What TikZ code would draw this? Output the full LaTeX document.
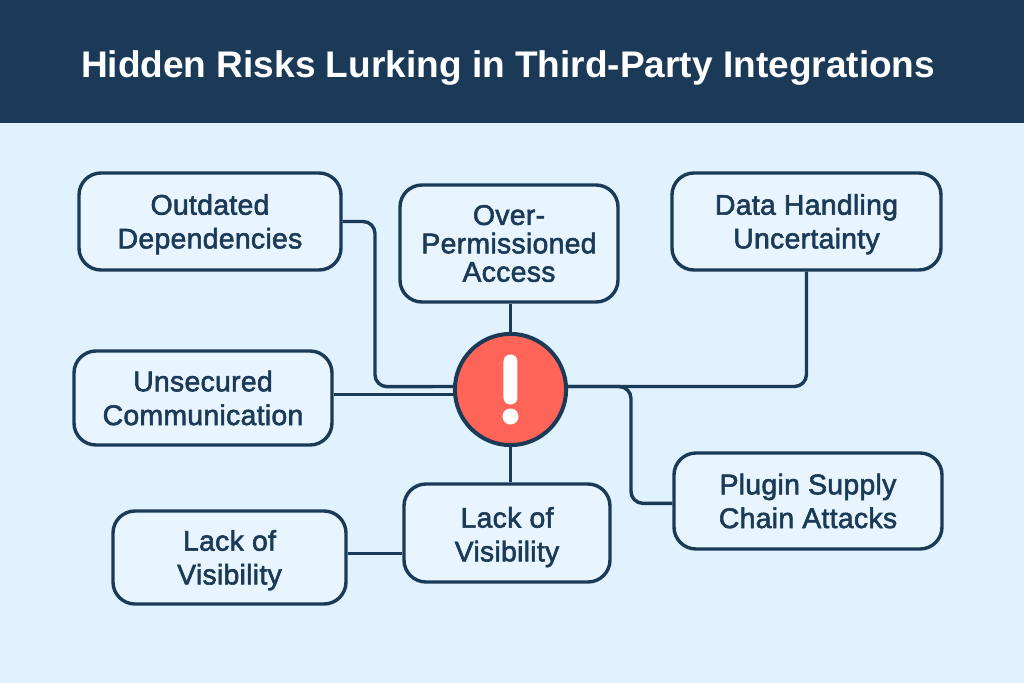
\documentclass[tikz,border=0pt]{standalone}
\usepackage{fontspec}
\usepackage{xcolor}
\usepackage{tikz}
\usetikzlibrary{shapes,arrows}
\setmainfont{Liberation Sans}
\newfontfamily\labelfont[FakeBold=2,LetterSpace=1]{Liberation Sans}
\newcommand{\droptext}{\rule{0pt}{18.5pt}}
\definecolor{navy}{HTML}{1B3A57}
\definecolor{paleblue}{HTML}{DFF2FE}
\definecolor{boxblue}{HTML}{E8F5FF}
\definecolor{alertred}{HTML}{FF6459}

\begin{document}
\begin{tikzpicture}[auto,
      block/.style={rectangle, draw=navy, line width=0.085cm, fill=boxblue, text=navy, align=center, rounded corners=0.55cm, font=\labelfont\fontsize{20.2}{24}\selectfont},
      line/.style={draw=navy, line width=0.085cm, rounded corners=0.3cm},
      hubnode/.style={circle, draw=navy, line width=0.1cm, fill=alertred, minimum size=2.78cm, inner sep=0pt},
      alertmark/.style={fill=white, draw=none, inner sep=0pt}]

      % Canvas
      \useasboundingbox (-12.7625,-7.3375) rectangle (12.8375,9.7375);
      \fill [paleblue] (-12.7625,-7.3375) rectangle (12.8375,9.7375);
      \fill [navy] (-12.7625,6.6625) rectangle (12.8375,9.7375);
      \node [text=white, font=\bfseries\fontsize{26.35}{30}\selectfont] (title) at (-0.06,8.03) {Hidden Risks Lurking in Third-Party Integrations};

      % Nodes
      \node [hubnode] (hub) at (0,0) {};
      \node [block, minimum width=6.55cm, minimum height=2.425cm, left of=hub, node distance=7.5125cm, yshift=4.2cm] (outdated) {\droptext Outdated\\Dependencies};
      \node [block, font=\labelfont\fontsize{20.2}{20.2}\selectfont, minimum width=5.45cm, minimum height=2.925cm, above of=hub, node distance=3.65cm, xshift=-0.0375cm] (over) {Over-\\Permissioned\\Access};
      \node [block, minimum width=6.725cm, minimum height=2.425cm, right of=hub, node distance=7.4cm, yshift=4.2cm] (data) {\droptext Data Handling\\Uncertainty};
      \node [block, minimum width=6.45cm, minimum height=2.35cm, left of=hub, node distance=7.6875cm, yshift=-0.2125cm] (unsecured) {Unsecured\\Communication};
      \node [block, minimum width=6.7cm, minimum height=2.4cm, right of=hub, node distance=7.4375cm, yshift=-2.7875cm] (plugin) {Plugin Supply\\Chain Attacks};
      \node [block, minimum width=5.15cm, minimum height=2.45cm, below of=hub, node distance=3.5875cm, xshift=-0.0875cm] (lackmid) {\rule{0pt}{20.5pt}Lack of\\Visibility};
      \node [block, minimum width=5.825cm, minimum height=2.325cm, left of=lackmid, node distance=6.9375cm, yshift=-0.6125cm] (lackleft) {\droptext Lack of\\Visibility};

      % Exclamation mark
      \node [alertmark, rectangle, rounded corners=0.17cm, minimum width=0.35cm, minimum height=1.25cm, above of=hub, node distance=0.25cm] (bar) {};
      \node [alertmark, circle, minimum size=0.4cm, below of=hub, node distance=0.675cm] (dot) {};

      % Elbows
      \coordinate [left of=hub, node distance=3.3875cm, yshift=0.07cm] (elbowout);
      \coordinate [right of=hub, node distance=3.0125cm, yshift=-1.5cm] (elbowplug);

      % Edges
      \path [line] (outdated.east) -| (elbowout) -- (hub.177);
      \path [line] (hub.north) -- (hub.north |- over.south);
      \path [line] (data.south) |- (hub.3);
      \path [line] (hub.185 -| unsecured.east) -- (hub.185);
      \path [line] (hub.3) -| (elbowplug) |- (plugin.181);
      \path [line] (hub.south) -- (hub.south |- lackmid.north);
      \path [line] (lackleft.2) -- (lackleft.2 -| lackmid.west);

    \end{tikzpicture}
\end{document}
